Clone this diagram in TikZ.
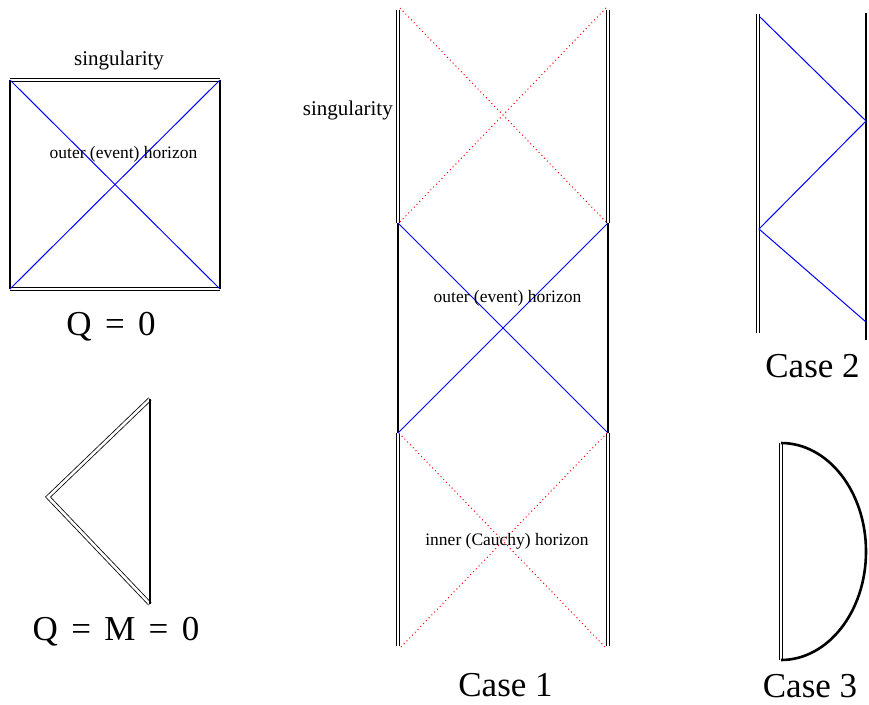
\documentclass[tikz,border=0pt]{standalone}
\usepackage{fontspec}
\setmainfont{Liberation Serif}
\begin{document}
\begin{tikzpicture}[x=1pt,y=-1pt,
  sing/.style={draw=black,double=white,double distance=2.6pt,line width=0.8pt},
  bound/.style={draw=black,line width=2.6pt},
  hor/.style={draw=blue,line width=1pt},
  inner/.style={draw=red,line width=1pt,dash pattern=on 1pt off 3pt},
  slab/.style={font=\fontsize{21}{24}\selectfont,inner sep=0pt,anchor=base},
  hlab/.style={font=\fontsize{17.5}{20}\selectfont,inner sep=0pt,anchor=base},
  big/.style={font=\fontsize{35}{40}\selectfont,inner sep=0pt,anchor=base}]
\useasboundingbox (0,0) rectangle (869,704);
\newcommand{\gp}{\hspace{0.38em}}
% ---------- Q = 0 square ----------
\coordinate (sTL) at (10,80); \coordinate (sTR) at (220,80);
\coordinate (sBL) at (10,289); \coordinate (sBR) at (220,289);
\draw[sing] (sTL) -- (sTR);
\draw[sing] (sBL) -- (sBR);
\draw[bound] (sTL) -- (sBL);
\draw[bound] (sTR) -- (sBR);
\draw[hor] (sTL) -- (sBR);
\draw[hor] (sTR) -- (sBL);
\node[slab] (sq1) at (119,65) {singularity};
\node[hlab] (sq2) at (123.5,158) {outer (event) horizon};
\node[big] (sq3) at (111,335) {Q\gp=\gp0};
% ---------- Q = M = 0 triangle ----------
\coordinate (tT) at (150,399); \coordinate (tA) at (48,497); \coordinate (tB) at (150,604);
\draw[sing] (tT) -- (tA) -- (tB);
\draw[bound] (tT) -- (tB);
\node[big] (tr1) at (116,640) {Q\gp=\gp M\gp=\gp0};
% ---------- Case 1 ----------
\coordinate (aL0) at (398,10); \coordinate (aR0) at (608,10);
\coordinate (aL1) at (398,223); \coordinate (aR1) at (608,223);
\coordinate (aL2) at (398,433); \coordinate (aR2) at (608,433);
\coordinate (aL3) at (398,646); \coordinate (aR3) at (608,646);
\draw[sing] (aL0) -- (aL1);
\draw[sing] (aR0) -- (aR1);
\draw[sing] (aL2) -- (aL3);
\draw[sing] (aR2) -- (aR3);
\draw[bound] (aL1) -- (aL2);
\draw[bound] (aR1) -- (aR2);
\draw[inner] ([xshift=2pt,yshift=2pt]aL0) -- ([xshift=-1pt]aR1);
\draw[inner] ([xshift=-2pt,yshift=2pt]aR0) -- ([xshift=1pt]aL1);
\draw[hor] (aL1) -- (aR2);
\draw[hor] (aR1) -- (aL2);
\draw[inner] ([xshift=1pt]aL2) -- ([xshift=-2pt,yshift=-2pt]aR3);
\draw[inner] ([xshift=-1pt]aR2) -- ([xshift=2pt,yshift=-2pt]aL3);
\node[slab,anchor=base east] (c1a) at (393,115) {singularity};
\node[hlab] (c1b) at (507.5,302) {outer (event) horizon};
\node[hlab] (c1c) at (507,545) {inner (Cauchy) horizon};
\node[big] (c1d) at (505.5,696) {Case 1};
% ---------- Case 2 ----------
\coordinate (bL0) at (758,14); \coordinate (bL1) at (758,333);
\coordinate (bR0) at (866,13); \coordinate (bR1) at (866,340);
\draw[sing] (bL0) -- (bL1);
\draw[bound] (bR0) -- (bR1);
\coordinate (p1) at (760,17); \coordinate (p2) at (866,121);
\coordinate (p3) at (759,229); \coordinate (p4) at (866,322);
\draw[hor] (p1) -- (p2) -- (p3) -- (p4);
\node[big] (c2) at (812.5,377) {Case 2};
% ---------- Case 3 ----------
\coordinate (dT) at (781,443); \coordinate (dB) at (781,660);
\draw[sing] (dT) -- (dB);
\draw[bound] (dT) arc[start angle=-90,end angle=90,x radius=85,y radius=108.5];
\node[big] (c3) at (810,697) {Case 3};
\end{tikzpicture}
\end{document}
